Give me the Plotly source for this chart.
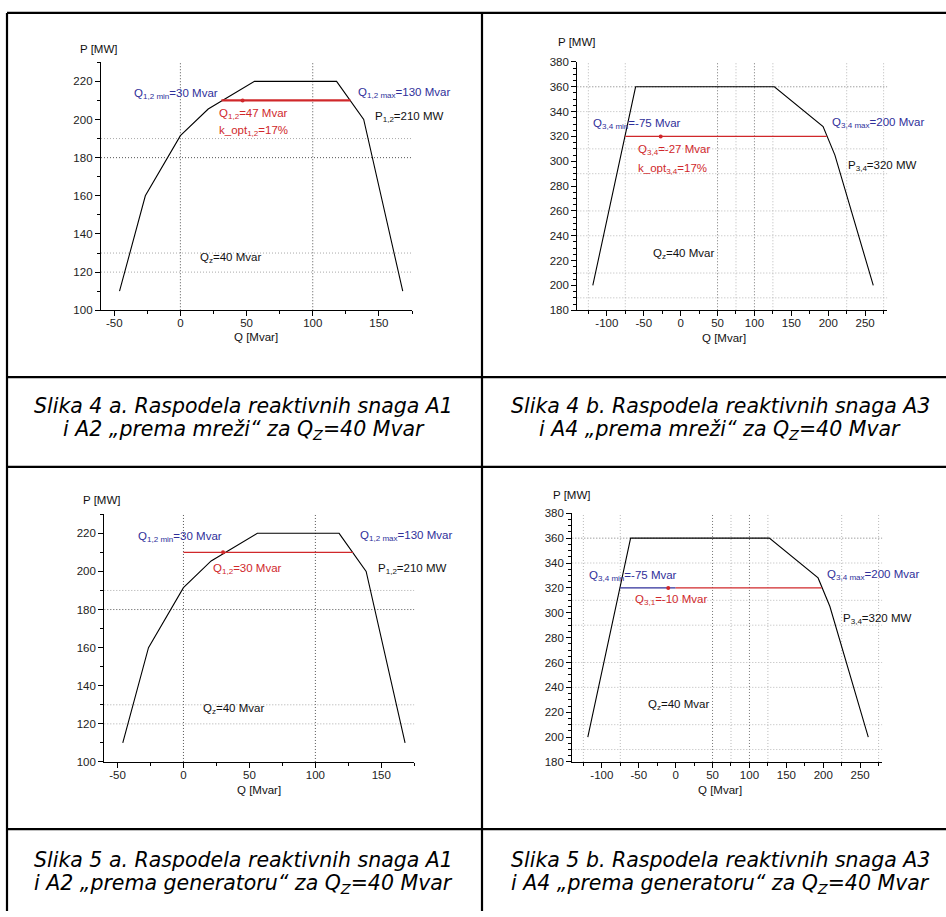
import plotly.graph_objects as go

W, H = 946, 917

# ---------------- data ----------------
# capability curve of units A1/A2 (Q [Mvar], P [MW])
q12 = [-46, -26.5, 0, 21, 56, 118, 138.5, 168]
p12 = [110, 160, 191.5, 205.5, 220, 220, 200, 110]
# capability curve of units A3/A4
q34 = [-119, -61, 127, 193, 209, 261]
p34 = [200, 360, 360, 328, 305, 200]

# operating ranges / optimum points
op4a_q, op4a_p = [31, 128.5], [210, 210]
opt4a_q, opt4a_p = [47], [210]
op4b_q, op4b_p = [-75, 198], [320, 320]
opt4b_q, opt4b_p = [-27], [320]
op5a_q, op5a_p = [0, 128.5], [210, 210]
opt5a_q, opt5a_p = [30], [210]
op5b_blue_q, op5b_blue_p = [-75, 0], [320, 320]
op5b_red_q, op5b_red_p = [0, 198], [320, 320]
opt5b_q, opt5b_p = [-10], [320]

# tick values
x12_ticks = [-50, 0, 50, 100, 150]
y12_ticks = [100, 120, 140, 160, 180, 200, 220]
x34_ticks = [-100, -50, 0, 50, 100, 150, 200, 250]
y34_ticks = [180, 200, 220, 240, 260, 280, 300, 320, 340, 360, 380]

# grid line positions
g12_x_dark = [0, 100]
g12_y_dark = [180]
g12_y_light = [190, 130, 120]
g34_x_dark = [50, 100]
g34_x_light = [-125, -75, 75, 125, 225, 275]
g34_y_dark = [360]
g34_y_light = [340, 310, 290, 260, 240, 210, 190]

captions = [
    ["Slika 4 a. Raspodela reaktivnih snaga A1", "i A2 „prema mreži“ za Q<sub>Z</sub>=40 Mvar"],
    ["Slika 4 b. Raspodela reaktivnih snaga A3", "i A4 „prema mreži“ za Q<sub>Z</sub>=40 Mvar"],
    ["Slika 5 a. Raspodela reaktivnih snaga A1", "i A2 „prema generatoru“ za Q<sub>Z</sub>=40 Mvar"],
    ["Slika 5 b. Raspodela reaktivnih snaga A3", "i A4 „prema generatoru“ za Q<sub>Z</sub>=40 Mvar"],
]

# ---------------- helpers ----------------
FONT = "Liberation Sans, Arial, sans-serif"
CAP_FONT = "DejaVu Sans, Liberation Sans, sans-serif"
BLUE = "#2f2f9a"
RED = "#d0282b"
BLACK = "#000000"


def px(x):
    return x / W


def py(y):
    return 1 - y / H


fig = go.Figure()

# subplot pixel boxes: (left, right, top, bottom)
boxes = {
    1: (101, 412, 57, 308.3),
    2: (577.3, 887.3, 56.7, 308.3),
    3: (104.3, 414.3, 515, 766),
    4: (572.3, 882.3, 514, 766),
}
kinds = {1: "12", 2: "34", 3: "12", 4: "34"}

layout_axes = {}
for i, (l, r, t, b) in boxes.items():
    xa = "xaxis" if i == 1 else f"xaxis{i}"
    ya = "yaxis" if i == 1 else f"yaxis{i}"
    xr = "x" if i == 1 else f"x{i}"
    yr = "y" if i == 1 else f"y{i}"
    if kinds[i] == "12":
        xrange, yrange = [-60, 175], [100, 230]
        xt, yt = x12_ticks, y12_ticks
        xminor, yminor = 25, 10
    else:
        xrange, yrange = [-140, 280], [180, 380]
        xt, yt = x34_ticks, y34_ticks
        xminor, yminor = 25, 5
    common = dict(
        showline=True, linecolor="black", linewidth=1.3, showgrid=False,
        zeroline=False, ticks="outside", ticklen=5, tickwidth=1, tickcolor="black",
        tickfont=dict(family=FONT, size=11.5, color="#222"), fixedrange=True,
    )
    layout_axes[xa] = dict(
        domain=[px(l), px(r)], anchor=yr, range=xrange, tickmode="array",
        tickvals=xt, ticktext=[str(v) for v in xt], ticklabelstandoff=-3,
        minor=dict(ticks="outside", ticklen=3, dtick=xminor, tick0=0, tickcolor="black"),
        **common,
    )
    layout_axes[ya] = dict(
        domain=[py(b), py(t)], anchor=xr, range=yrange, tickmode="array",
        tickvals=yt, ticktext=[str(v) for v in yt],
        minor=dict(ticks="outside", ticklen=3, dtick=yminor, tick0=0, tickcolor="black"),
        **common,
    )

shapes = []


def grid(xr, yr, xs, ys, xrange, yrange, color):
    for v in xs:
        shapes.append(dict(type="line", xref=xr, yref=yr, x0=v, x1=v, y0=yrange[0], y1=yrange[1],
                           line=dict(color=color, width=1, dash="1px,2px"), layer="below"))
    for v in ys:
        shapes.append(dict(type="line", xref=xr, yref=yr, y0=v, y1=v, x0=xrange[0], x1=xrange[1],
                           line=dict(color=color, width=1, dash="1px,2px"), layer="below"))


for i in (1, 3):
    xr = "x" if i == 1 else f"x{i}"
    yr = "y" if i == 1 else f"y{i}"
    grid(xr, yr, g12_x_dark, g12_y_dark, [-60, 175], [100, 230], "#555555")
    grid(xr, yr, [], g12_y_light, [-60, 175], [100, 230], "#aaaaaa")
for i in (2, 4):
    xr = f"x{i}"
    yr = f"y{i}"
    grid(xr, yr, g34_x_dark, g34_y_dark, [-140, 280], [180, 380], "#777777")
    grid(xr, yr, g34_x_light, g34_y_light, [-140, 280], [180, 380], "#b8b8b8")


def line(i, x, y, color, width):
    xr = "x" if i == 1 else f"x{i}"
    yr = "y" if i == 1 else f"y{i}"
    fig.add_trace(go.Scatter(x=x, y=y, xaxis=xr, yaxis=yr, mode="lines",
                             line=dict(color=color, width=width), showlegend=False,
                             hoverinfo="skip"))


def point(i, x, y, color):
    xr = "x" if i == 1 else f"x{i}"
    yr = "y" if i == 1 else f"y{i}"
    fig.add_trace(go.Scatter(x=x, y=y, xaxis=xr, yaxis=yr, mode="markers",
                             marker=dict(color=color, size=4), showlegend=False,
                             hoverinfo="skip"))


line(1, q12, p12, BLACK, 1.1)
line(1, op4a_q, op4a_p, RED, 2.2)
point(1, opt4a_q, opt4a_p, RED)

line(2, q34, p34, BLACK, 1.1)
line(2, op4b_q, op4b_p, RED, 1.2)
point(2, opt4b_q, opt4b_p, RED)

line(3, q12, p12, BLACK, 1.1)
line(3, op5a_q, op5a_p, RED, 1.2)
point(3, opt5a_q, opt5a_p, RED)

line(4, q34, p34, BLACK, 1.1)
line(4, op5b_blue_q, op5b_blue_p, BLUE, 1.2)
line(4, op5b_red_q, op5b_red_p, RED, 1.2)
point(4, opt5b_q, opt5b_p, RED)

annotations = []


def txt(x, y, text, color="#111111", size=11.5, anchor="left", italic=False, family=FONT):
    f = dict(family=family, size=size, color=color)
    if italic:
        f["style"] = "italic"
    annotations.append(dict(x=px(x), y=py(y), xref="paper", yref="paper", text=text,
                            showarrow=False, xanchor=anchor, yanchor="middle", font=f))


# chart 1 (4a)
txt(78, 44, "P [MW]")
txt(132, 89, "Q<sub>1,2 min</sub>=30 Mvar", BLUE)
txt(356, 88, "Q<sub>1,2 max</sub>=130 Mvar", BLUE)
txt(217, 109, "Q<sub>1,2</sub>=47 Mvar", RED)
txt(217, 127, "k_opt<sub>1,2</sub>=17%", RED)
txt(373, 112, "P<sub>1,2</sub>=210 MW")
txt(198, 255, "Q<sub>z</sub>=40 Mvar")
txt(256, 335, "Q [Mvar]", anchor="center")

# chart 2 (4b)
txt(556, 36, "P [MW]")
txt(591, 120, "Q<sub>3,4 min</sub>=-75 Mvar", BLUE)
txt(830, 119, "Q<sub>3,4 max</sub>=200 Mvar", BLUE)
txt(636, 146, "Q<sub>3,4</sub>=-27 Mvar", RED)
txt(636, 165, "k_opt<sub>3,4</sub>=17%", RED)
txt(846, 162, "P<sub>3,4</sub>=320 MW")
txt(651, 251, "Q<sub>z</sub>=40 Mvar")
txt(724, 336, "Q [Mvar]", anchor="center")

# chart 3 (5a)
txt(81, 501, "P [MW]")
txt(136, 538, "Q<sub>1,2 min</sub>=30 Mvar", BLUE)
txt(358, 537, "Q<sub>1,2 max</sub>=130 Mvar", BLUE)
txt(211, 570, "Q<sub>1,2</sub>=30 Mvar", RED)
txt(376, 570, "P<sub>1,2</sub>=210 MW")
txt(201, 712, "Q<sub>z</sub>=40 Mvar")
txt(259, 794, "Q [Mvar]", anchor="center")

# chart 4 (5b)
txt(551, 495, "P [MW]")
txt(587, 578, "Q<sub>3,4 min</sub>=-75 Mvar", BLUE)
txt(825, 577, "Q<sub>3,4 max</sub>=200 Mvar", BLUE)
txt(633, 602, "Q<sub>3,1</sub>=-10 Mvar", RED)
txt(841, 621, "P<sub>3,4</sub>=320 MW")
txt(646, 708, "Q<sub>z</sub>=40 Mvar")
txt(720, 794, "Q [Mvar]", anchor="center")

# captions
cap_pos = [(244, 405, 430), (720, 405, 430), (244, 865, 890), (720, 865, 890)]
for (cx, y1, y2), (l1, l2) in zip(cap_pos, captions):
    txt(cx, y1, l1, "#000", 20.5, "center", True, CAP_FONT)
    txt(cx, y2, l2, "#000", 20.5, "center", True, CAP_FONT)

# table borders
for (x0, y0, x1, y1) in [(7, 7, 946, 7), (7, 7, 7, 917), (482, 7, 482, 917),
                         (7, 376, 946, 376), (7, 467, 946, 467), (7, 834, 946, 834)]:
    shapes.append(dict(type="line", xref="paper", yref="paper", x0=px(x0), y0=py(y0),
                       x1=px(x1), y1=py(y1), line=dict(color="black", width=2.2)))

fig.update_layout(
    width=W, height=H, margin=dict(l=0, r=0, t=0, b=0),
    paper_bgcolor="white", plot_bgcolor="white",
    shapes=shapes, annotations=annotations, showlegend=False,
    **layout_axes,
)

fig.write_html("out.html", config={"displayModeBar": False})
